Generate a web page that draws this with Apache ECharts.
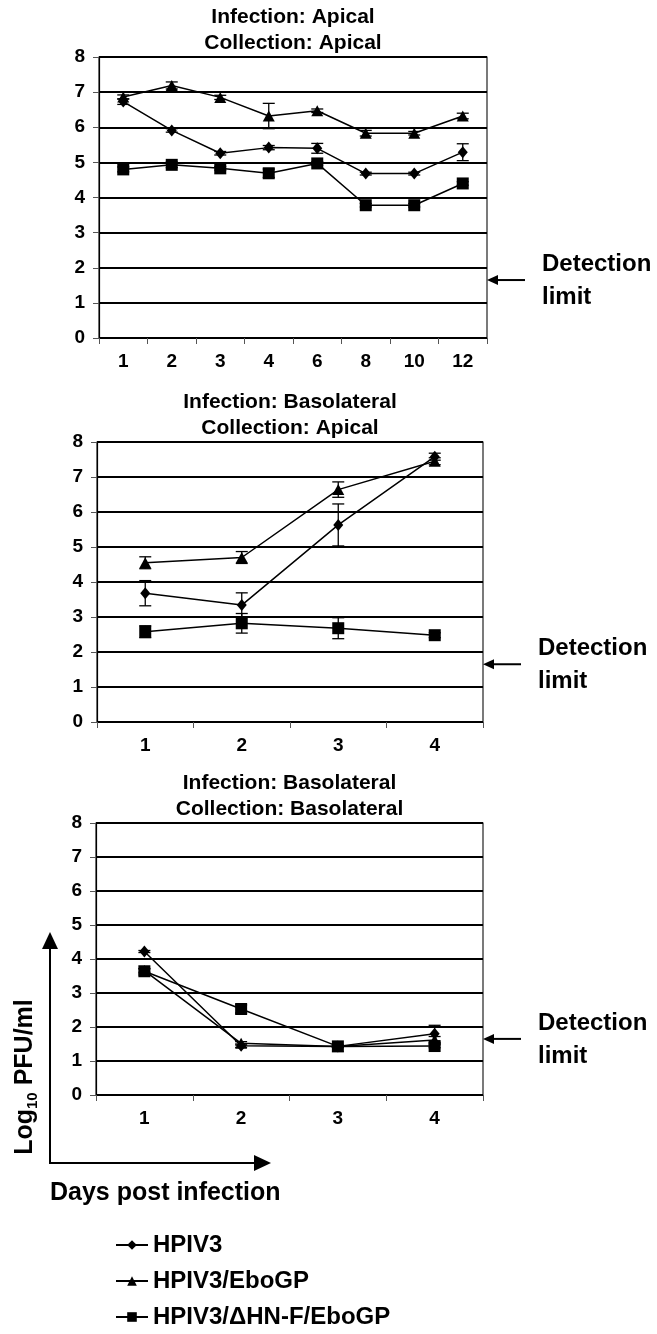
<!DOCTYPE html>
<html>
<head>
<meta charset="utf-8">
<script src="https://cdn.jsdelivr.net/npm/echarts@6/dist/echarts.min.js"></script>
<style>
html,body{margin:0;padding:0;background:#fff;}
#c{width:657px;height:1334px;}
</style>
</head>
<body>
<div id="c"></div>
<script>
// ---- data ----
const seriesNames = ['HPIV3', 'HPIV3/EboGP', 'HPIV3/\u0394HN-F/EboGP'];
const yTicks = [0, 1, 2, 3, 4, 5, 6, 7, 8];
const detectionLimit = 1.65;

const topDays = ['1', '2', '3', '4', '6', '8', '10', '12'];
const topHPIV3 = [6.73, 5.91, 5.26, 5.42, 5.40, 4.68, 4.68, 5.29];
const topHPIV3Err = [0.08, 0.05, 0.05, 0.06, 0.14, 0.04, 0.04, 0.24];
const topEbo = [6.86, 7.19, 6.85, 6.32, 6.47, 5.83, 5.83, 6.32];
const topEboErr = [0.06, 0.10, 0.06, 0.36, 0.05, 0.08, 0.05, 0.08];
const topDHNF = [4.80, 4.93, 4.83, 4.69, 4.97, 3.78, 3.78, 4.40];
const topDHNFErr = [0.07, 0.08, 0.05, 0.12, 0.05, 0.05, 0.05, 0.05];

const midDays = ['1', '2', '3', '4'];
const midHPIV3 = [3.68, 3.34, 5.63, 7.58];
const midHPIV3Err = [0.36, 0.35, 0.60, 0.10];
const midEbo = [4.55, 4.70, 6.64, 7.45];
const midEboErr = [0.17, 0.17, 0.22, 0.10];
const midDHNF = [2.58, 2.82, 2.68, 2.48];
const midDHNFErr = [0.17, 0.28, 0.30, 0.07];

const botDays = ['1', '2', '3', '4'];
const botHPIV3 = [4.22, 1.45, 1.43, 1.80];
const botHPIV3Err = [0.03, 0.05, 0.03, 0.25];
const botEbo = [3.66, 1.52, 1.43, 1.62];
const botEboErr = [0.05, 0.05, 0.03, 0.10];
const botDHNF = [3.64, 2.53, 1.43, 1.44];
const botDHNFErr = [0.08, 0.12, 0.03, 0.05];

const panelTitles = [
  ['Infection: Apical', 'Collection: Apical'],
  ['Infection: Basolateral', 'Collection: Apical'],
  ['Infection: Basolateral', 'Collection: Basolateral']
];

// ---- layout / style ----
const FONT = '"Liberation Sans", Arial, Helvetica, sans-serif';
const grids = [
  { left: 99, top: 57, width: 388, height: 281 },
  { left: 97, top: 442, width: 386, height: 280 },
  { left: 96, top: 823, width: 387, height: 272 }
];
const symbols = ['diamond', 'triangle', 'rect'];
const symbolSizes = [[10, 12], [12, 11], [12, 12]];

const panels = [
  { days: topDays, vals: [topHPIV3, topEbo, topDHNF], errs: [topHPIV3Err, topEboErr, topDHNFErr] },
  { days: midDays, vals: [midHPIV3, midEbo, midDHNF], errs: [midHPIV3Err, midEboErr, midDHNFErr] },
  { days: botDays, vals: [botHPIV3, botEbo, botDHNF], errs: [botHPIV3Err, botEboErr, botDHNFErr] }
];

function errRender(params, api) {
  const x = api.value(0), lo = api.value(1), hi = api.value(2);
  const p1 = api.coord([x, hi]);
  const p2 = api.coord([x, lo]);
  const w = 6;
  const st = { stroke: '#000', lineWidth: 1.3 };
  return {
    type: 'group',
    children: [
      { type: 'line', shape: { x1: p1[0], y1: p1[1], x2: p2[0], y2: p2[1] }, style: st },
      { type: 'line', shape: { x1: p1[0] - w, y1: p1[1], x2: p1[0] + w, y2: p1[1] }, style: st },
      { type: 'line', shape: { x1: p2[0] - w, y1: p2[1], x2: p2[0] + w, y2: p2[1] }, style: st }
    ]
  };
}

const xAxes = [], yAxes = [], series = [];
panels.forEach((p, gi) => {
  xAxes.push({
    type: 'category', gridIndex: gi, data: p.days, boundaryGap: true,
    axisLine: { lineStyle: { color: '#000', width: 1.2 } },
    axisTick: { show: true, length: 6, lineStyle: { color: '#555', width: 1 } },
    axisLabel: { color: '#000', fontSize: 19, fontWeight: 'bold', fontFamily: FONT, margin: 14 },
    splitLine: { show: false }
  });
  yAxes.push({
    type: 'value', gridIndex: gi, min: yTicks[0], max: yTicks[yTicks.length - 1], interval: 1,
    axisLine: { show: true, lineStyle: { color: '#000', width: 1.2 } },
    axisTick: { show: true, length: 6, lineStyle: { color: '#555', width: 1 } },
    axisLabel: { color: '#000', fontSize: 19, fontWeight: 'bold', fontFamily: FONT, margin: 14 },
    splitLine: { show: true, lineStyle: { color: '#000', width: 2 } }
  });
  p.vals.forEach((v, si) => {
    series.push({
      type: 'custom', name: 'err' + gi + si, xAxisIndex: gi, yAxisIndex: gi,
      renderItem: errRender, encode: { x: 0, y: [1, 2] }, z: 3, silent: true,
      data: v.map((val, i) => [i, val - p.errs[si][i], val + p.errs[si][i]])
    });
    series.push({
      type: 'line', name: seriesNames[si], xAxisIndex: gi, yAxisIndex: gi,
      data: v, symbol: symbols[si], symbolSize: symbolSizes[si], showAllSymbol: true,
      lineStyle: { color: '#000', width: 1.5 }, itemStyle: { color: '#000' },
      z: 4, animation: false
    });
  });
});

const chart = echarts.init(document.getElementById('c'), null, { renderer: 'canvas' });
chart.setOption({
  animation: false,
  backgroundColor: '#fff',
  grid: grids.map(g => Object.assign({ show: true, borderColor: '#222', borderWidth: 1.2, backgroundColor: 'transparent' }, g)),
  xAxis: xAxes,
  yAxis: yAxes,
  legend: {
    orient: 'vertical', left: 115, top: 1231, height: 140, padding: 0,
    itemWidth: 32, itemHeight: 12, itemGap: 8,
    data: seriesNames,
    textStyle: { fontSize: 24, fontWeight: 'bold', color: '#000', fontFamily: FONT, lineHeight: 28 },
    selectedMode: false
  },
  series: series
});

// ---- annotations (positions derived from axes) ----
const graphics = [];
const txt = (x, y, text, size, align) => ({
  type: 'text', x: x, y: y, silent: true,
  style: { text: text, fill: '#000', font: 'bold ' + size + 'px ' + FONT, textAlign: align || 'center', textVerticalAlign: 'middle' }
});
grids.forEach((g, gi) => {
  const cx = g.left + g.width / 2;
  graphics.push(txt(cx, g.top - 40, panelTitles[gi][0], 21));
  graphics.push(txt(cx, g.top - 14, panelTitles[gi][1], 21));
  const y = chart.convertToPixel({ yAxisIndex: gi }, detectionLimit);
  const xr = g.left + g.width;
  graphics.push({ type: 'line', silent: true, shape: { x1: xr + 8, y1: y, x2: xr + 38, y2: y }, style: { stroke: '#000', lineWidth: 2 } });
  graphics.push({ type: 'polygon', silent: true, shape: { points: [[xr, y], [xr + 11, y - 5], [xr + 11, y + 5]] }, style: { fill: '#000' } });
  graphics.push(txt(xr + 55, y - 16, 'Detection', 24, 'left'));
  graphics.push(txt(xr + 55, y + 17, 'limit', 24, 'left'));
});
// axis arrows and labels
graphics.push({ type: 'polyline', silent: true, shape: { points: [[50, 945], [50, 1163], [258, 1163]] }, style: { stroke: '#000', lineWidth: 2, fill: null } });
graphics.push({ type: 'polygon', silent: true, shape: { points: [[50, 932], [42, 949], [58, 949]] }, style: { fill: '#000' } });
graphics.push({ type: 'polygon', silent: true, shape: { points: [[271, 1163], [254, 1155], [254, 1171]] }, style: { fill: '#000' } });
graphics.push({
  type: 'text', x: 25, y: 1077, rotation: Math.PI / 2, silent: true,
  style: {
    text: '{a|Log}{s|10}{a| PFU/ml}', textAlign: 'center', textVerticalAlign: 'middle', fill: '#000',
    rich: {
      a: { fontSize: 25, fontWeight: 'bold', fontFamily: FONT, fill: '#000', lineHeight: 30, verticalAlign: 'middle' },
      s: { fontSize: 15, fontWeight: 'bold', fontFamily: FONT, fill: '#000', lineHeight: 30, verticalAlign: 'bottom', padding: [14, 0, 0, 0] }
    }
  }
});
graphics.push(txt(50, 1193, 'Days post infection', 25, 'left'));
chart.setOption({ graphic: graphics });
</script>
</body>
</html>
